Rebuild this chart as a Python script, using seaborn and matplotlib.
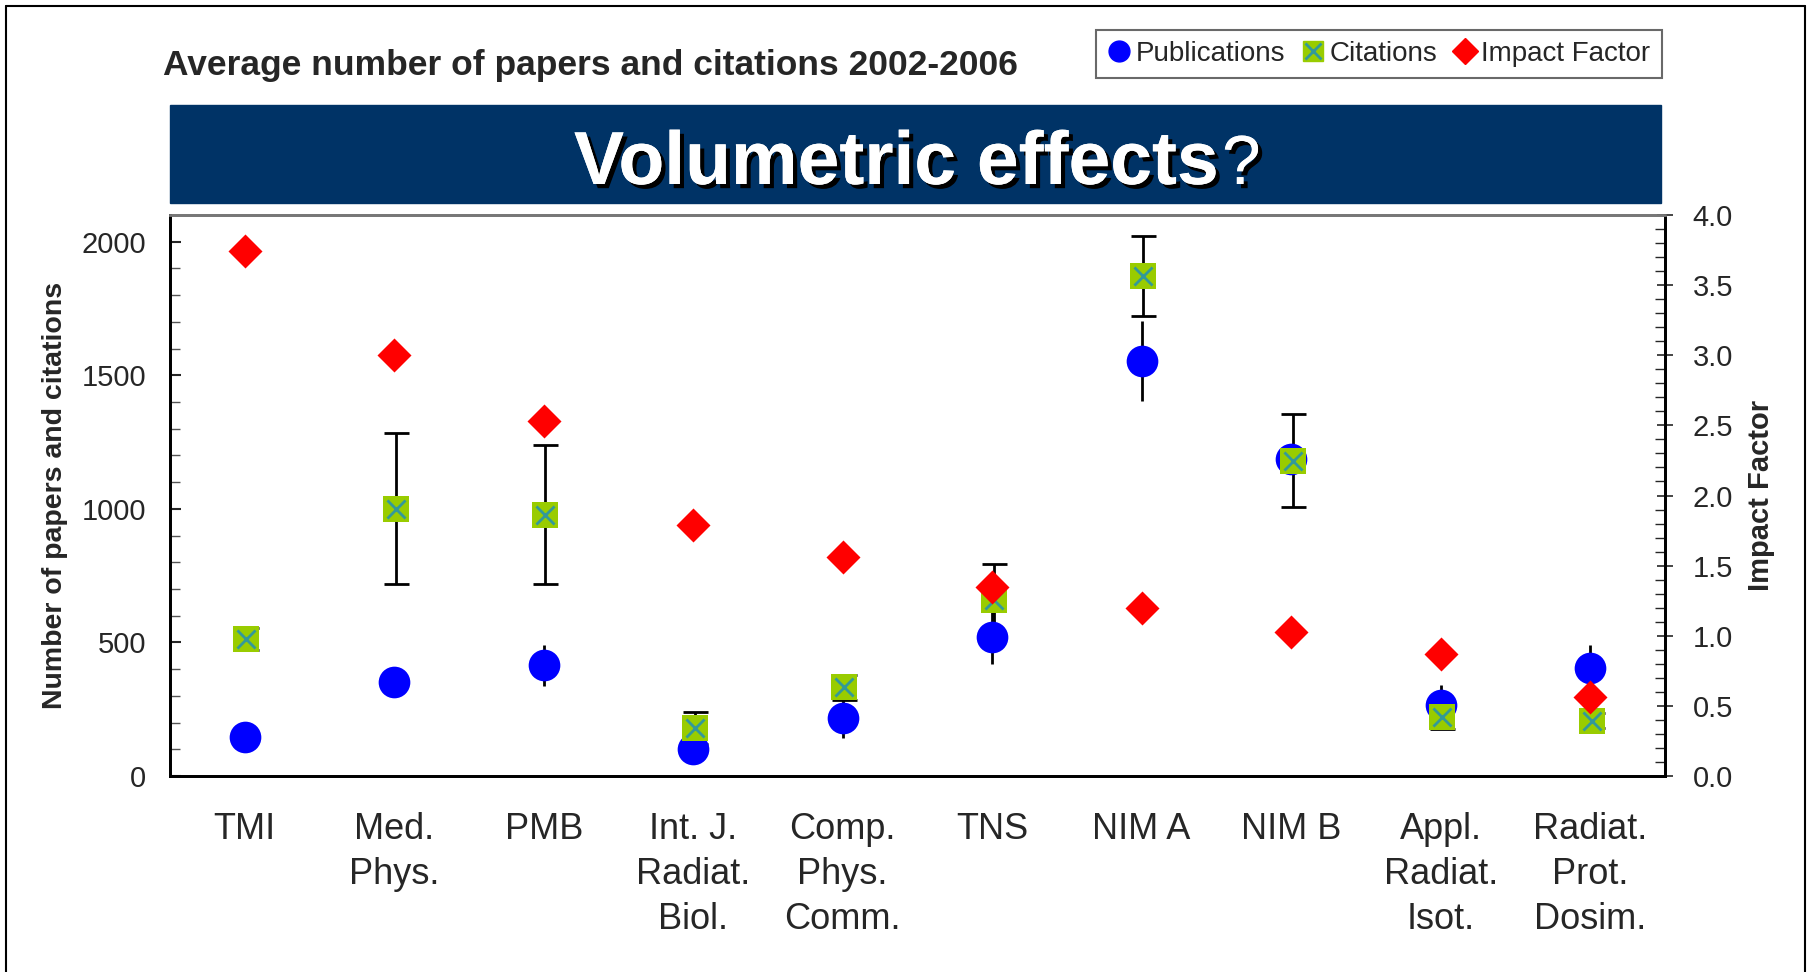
import numpy as np
import pandas as pd
import matplotlib
matplotlib.use("Agg")
import matplotlib.pyplot as plt
import matplotlib.patheffects as pe
from matplotlib.lines import Line2D
import seaborn as sns

# data
journals = ["TMI", "Med.\nPhys.", "PMB", "Int. J.\nRadiat.\nBiol.", "Comp.\nPhys.\nComm.",
            "TNS", "NIM A", "NIM B", "Appl.\nRadiat.\nIsot.", "Radiat.\nProt.\nDosim."]
publications = [147, 353, 414, 103, 216, 522, 1552, 1185, 267, 405]
pub_err = [15, 55, 78, 15, 75, 103, 150, 40, 73, 86]
citations = [513, 1000, 978, 181, 332, 660, 1871, 1181, 220, 207]
cit_err = [43, 283, 260, 60, 47, 133, 150, 175, 43, 28]
impact_factor = [3.74, 3.00, 2.53, 1.79, 1.56, 1.35, 1.20, 1.03, 0.87, 0.56]

df = pd.DataFrame({"pos": np.arange(len(journals)), "Publications": publications,
                   "Citations": citations, "IF": impact_factor})

sns.set_style("white")
plt.rcParams["font.family"] = ["Liberation Sans", "DejaVu Sans"]

fig = plt.figure(figsize=(18.12, 9.72), dpi=100)
ax = fig.add_axes([0.0938, 0.2016, 0.825, 0.5772])
ax2 = ax.twinx()

blue = "#0000FF"
green = "#99CC00"
red = "#FF0000"

# error bars
ax.errorbar(df["pos"], df["Publications"], yerr=pub_err, fmt="none", ecolor="black",
            elinewidth=2, capsize=0, zorder=2)
ax.errorbar(df["pos"] + 0.01, df["Citations"], yerr=cit_err, fmt="none", ecolor="black",
            elinewidth=2, capsize=9, capthick=2, zorder=2)

sns.scatterplot(data=df, x="pos", y="Publications", ax=ax, color=blue, marker="o",
                s=520, edgecolor=blue, linewidth=0, zorder=3)
sns.scatterplot(data=df, x=df["pos"] + 0.01, y="Citations", ax=ax, color=green, marker="s",
                s=330, edgecolor=green, linewidth=0, zorder=4)
sns.scatterplot(data=df, x=df["pos"] + 0.01, y="Citations", ax=ax, color="#339999", marker="x",
                s=170, linewidth=2, zorder=5)
sns.scatterplot(data=df, x="pos", y="IF", ax=ax2, color=red, marker="D",
                s=300, edgecolor=red, linewidth=0, zorder=3)

ax.set_xlim(-0.5, len(journals) - 0.5)
ax.set_ylim(0, 2100)
ax2.set_ylim(0, 4.0)

ax.set_xticks(range(len(journals)))
ax.set_xticklabels(journals, fontsize=26, linespacing=1.37, va="top")
ax.tick_params(axis="x", which="major", length=0, pad=26)
ax.set_xticks(np.arange(0.5, len(journals) - 0.5, 1), minor=True)
ax.tick_params(axis="x", which="minor", direction="in", length=12, width=1, color="#555555")

ax.set_yticks(np.arange(0, 2001, 500))
ax.set_yticks(np.arange(0, 2101, 100), minor=True)
ax.tick_params(axis="y", which="major", direction="in", length=8, width=1.5, labelsize=21, pad=17)
ax.tick_params(axis="y", which="minor", direction="in", length=7, width=1, color="#555555")
ax.yaxis.set_ticks_position("left")

ax2.set_yticks(np.arange(0, 4.01, 0.5))
ax2.set_yticklabels([f"{v:.1f}" for v in np.arange(0, 4.01, 0.5)])
ax2.set_yticks(np.arange(0, 4.01, 0.1), minor=True)
ax2.tick_params(axis="y", which="major", direction="inout", length=12, width=1.2, labelsize=21, pad=14)
ax2.tick_params(axis="y", which="minor", direction="in", length=7, width=1)

ax.set_xlabel("")
ax.set_ylabel("Number of papers and citations", fontsize=20.5, fontweight="bold", labelpad=10)
ax2.set_ylabel("Impact Factor", fontsize=21, fontweight="bold", labelpad=10)

for a in (ax, ax2):
    for side in ("left", "bottom", "right"):
        a.spines[side].set_color("black")
        a.spines[side].set_linewidth(2)
    a.spines["top"].set_color("#777777")
    a.spines["top"].set_linewidth(2)

# banner
banner = plt.Rectangle((170 / 1812, 1 - 203 / 972), (1661 - 170) / 1812, 98 / 972,
                       transform=fig.transFigure, color="#003366", zorder=1)
fig.patches.append(banner)
shadow = [pe.withSimplePatchShadow(offset=(3, -3), shadow_rgbFace="black", alpha=1.0), pe.Normal()]
main = fig.text(574 / 1812, 1 - 184 / 972, "Volumetric effects", color="white", fontsize=54,
                fontweight="bold", ha="left", va="baseline", path_effects=shadow)
fig.canvas.draw()
bb = main.get_window_extent()
fig.text(bb.x1 / 1812 + 0.002, 1 - 184 / 972, "?", color="white", fontsize=50,
         ha="left", va="baseline", path_effects=shadow)

fig.text(163 / 1812, 1 - 66 / 972, "Average number of papers and citations 2002-2006",
         fontsize=25.5, fontweight="bold", ha="left", va="center")

# legend
handles = [
    Line2D([], [], linestyle="none", marker="o", markersize=15, color=blue),
    (Line2D([], [], linestyle="none", marker="s", markersize=15, color=green),
     Line2D([], [], linestyle="none", marker="x", markersize=11, markeredgewidth=2, color="#339999")),
    Line2D([], [], linestyle="none", marker="D", markersize=13, color=red),
]
leg = fig.legend(handles, ["Publications", "Citations", "Impact Factor"], ncol=3,
                 loc="center", bbox_to_anchor=(1379 / 1812, 1 - 54 / 972), fontsize=20,
                 frameon=True, fancybox=False, handlelength=0.8, handletextpad=0.2,
                 columnspacing=0.6, borderpad=0.4)
leg.get_frame().set_edgecolor("#444444")
leg.get_frame().set_linewidth(1.5)

# outer frame
for xs, ys in (([6, 1805], [6, 6]), ([6, 6], [6, 972]), ([1805, 1805], [6, 972])):
    fig.add_artist(Line2D([x / 1812 for x in xs], [1 - y / 972 for y in ys],
                          transform=fig.transFigure, color="black", linewidth=1.5))

plt.savefig("out.png", dpi=100)
